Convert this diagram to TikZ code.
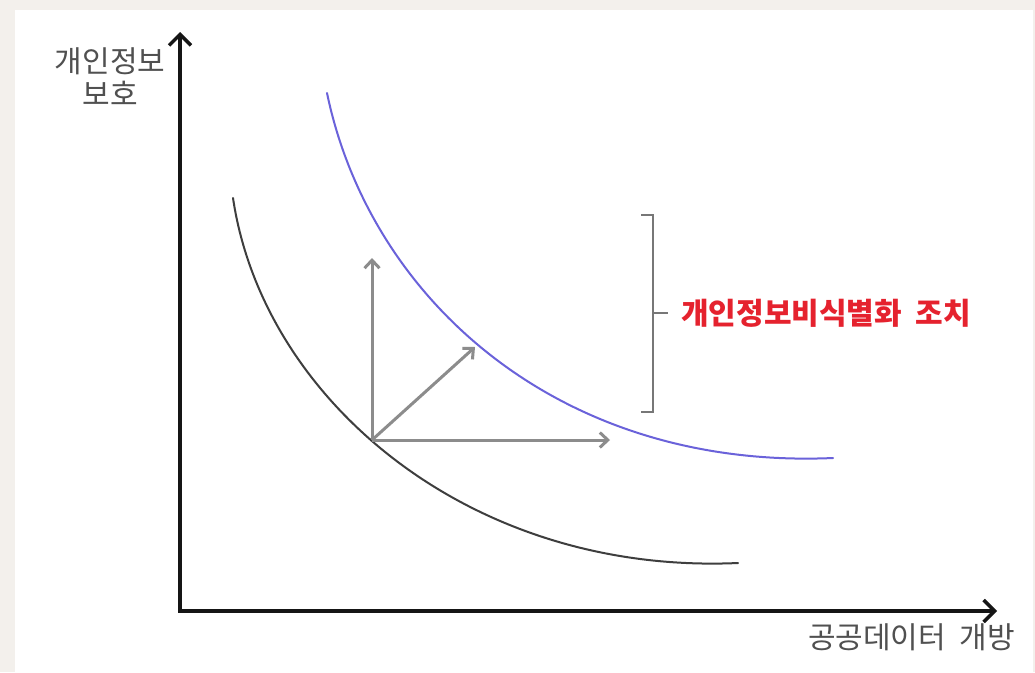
\documentclass[tikz,border=0pt]{standalone}
\usepackage{fontspec}
\newfontfamily\krfont{Noto Sans CJK KR}[WordSpace=2]
\usetikzlibrary{arrows.meta}
\definecolor{paneledge}{HTML}{F3F0EC}
\definecolor{axisink}{HTML}{151515}
\definecolor{labelgray}{HTML}{505050}
\definecolor{shiftgray}{HTML}{8C8C8C}
\definecolor{curveblue}{HTML}{6A62DA}
\definecolor{curvedark}{HTML}{3E3E3E}
\definecolor{measurered}{HTML}{E5222E}

\begin{document}
\begin{tikzpicture}[
    x=1pt,y=-1pt,>=Latex,
    axis/.style={{Straight Barb[length=11pt,width=22pt]}-{Straight Barb[length=11pt,width=22pt]},
      draw=axisink,line width=3.5pt,line join=miter},
    move/.style={-{Straight Barb[length=8pt,width=15pt]},draw=shiftgray,line width=3pt},
    curve/.style={line width=2pt,line cap=round},
    axlabel/.style={font=\krfont\fontsize{30}{33}\selectfont,text=labelgray,inner sep=0pt},
    brace/.style={draw=shiftgray!85!black,line width=2.5pt}
  ]
  \fill[paneledge] (0,0) rectangle (1035,672);
  \fill[white] (15,10) rectangle (1033,672);
  \useasboundingbox (0,0) rectangle (1035,672);

  \coordinate (origin) at (180,611);
  \coordinate (ytip) at (180,32);
  \coordinate (xtip) at (997,611);
  \draw[axis] (ytip) -- (origin) -- (xtip);

  \node[axlabel,align=center] (privacy) at (110,77) {개인정보\\보호};
  \node[axlabel,anchor=east] (opendata) at (1015,637) {공공데이터 개방};

  \draw[curve,draw=curvedark] (233,198) .. controls (263,400) and (470,575) .. (738,563);
  \draw[curve,draw=curveblue] (327,93) .. controls (370,300) and (560,470) .. (833,458);

  \coordinate (base) at (372,440);
  \coordinate (upend) at (372,258);
  \coordinate (rightend) at (610,440);
  \coordinate (diagend) at (475,347);
  \draw[move] (base) -- (upend);
  \draw[move] (base) -- (rightend);
  \draw[move] (base) -- (diagend);

  \coordinate (btop) at (653,215);
  \coordinate (bbot) at (653,412);
  \coordinate (bmid) at (653,313);
  \draw[brace] (641,215) -- (btop) -- (bbot) -- (641,412);
  \node[axlabel,font=\krfont\bfseries\fontsize{30}{33}\selectfont,text=measurered,anchor=west]
    (deid) at (681,313) {개인정보비식별화 조치};
  \draw[brace] (bmid) -- (668,313);
\end{tikzpicture}
\end{document}
